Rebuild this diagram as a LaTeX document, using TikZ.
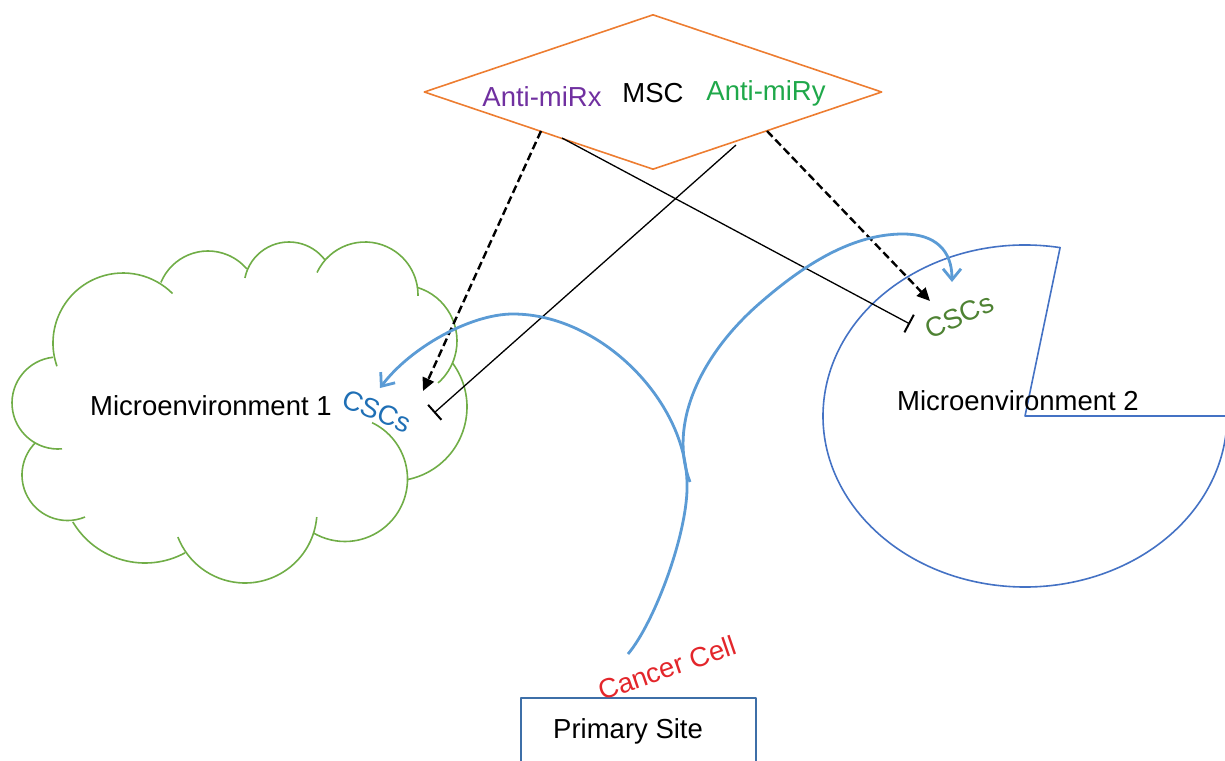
\documentclass[tikz,border=0pt]{standalone}
\usepackage{fontspec}
\setmainfont{Liberation Sans}
\usetikzlibrary{arrows.meta,shapes.geometric}
\definecolor{mscorange}{HTML}{ED7D31}
\definecolor{mirxpurple}{HTML}{7030A0}
\definecolor{mirygreen}{HTML}{1FA84A}
\definecolor{cloudgreen}{HTML}{70AD47}
\definecolor{cscblue}{HTML}{1F6FB5}
\definecolor{cscgreen}{HTML}{4E8233}
\definecolor{flowblue}{HTML}{5B9BD5}
\definecolor{pieblue}{HTML}{4472C4}
\definecolor{siteblue}{HTML}{3E6FA8}
\definecolor{cancerred}{HTML}{E3262B}

\begin{document}
\begin{tikzpicture}[x=1pt,y=-1pt,line join=round,
  every node/.style={font=\fontsize{27.5}{33}\selectfont,inner sep=0pt},
  cloudline/.style={draw=cloudgreen,line width=1.6pt},
  pieline/.style={draw=pieblue,line width=1.6pt},
  siteline/.style={draw=siteblue,line width=1.4pt},
  flow/.style={draw=flowblue,line width=2.8pt,-{Straight Barb[length=11pt,width=18pt]}},
  promote/.style={draw=black,line width=2.4pt,dash pattern=on 8pt off 4pt,-{Triangle[length=13pt,width=12pt]}},
  inhibit/.style={draw=black,line width=1.3pt,-{Bar[width=20pt,line width=2pt]}}]
\useasboundingbox (0,0) rectangle (1225,760);
%%
% Shape: cloud of microenvironment 1 (one arc per puff)
\foreach \cx/\cy/\r/\a/\b in {123/343/70/160.6/315, 208/302/51/202.6/319.6,
    289/287/45/191.6/323.1, 365/295/53/205.1/361, 401/341/56/286.5/408.6,
    393/407/74/323.7/439.1, 345/479/62.5/295.7/480.6, 245/511/72/4.8/158.8,
    145/479/84/61.6/149.2, 67.5/475/45.5/67.4/224.6, 58/403/46/85/263.8}
  \draw[cloudline] (\cx,\cy) ++(\a:\r) arc[start angle=\a,end angle=\b,radius=\r];
% Shape: pie of microenvironment 2
\draw[pieline] (1025,416) -- (1060.1,247.6) arc[start angle=280,end angle=0,x radius=202,y radius=171] -- cycle;
% Shape: primary site box
\draw[siteline] (521,698) rectangle (756,790);
%
% Node: msc
\node[diamond,draw=mscorange,line width=1.6pt,minimum width=458pt,minimum height=155pt] (msc) at (653,92) {};
\node[anchor=base,text=mirxpurple] (mirx) at (542,106) {Anti-miRx};
\node[anchor=base] (msclbl) at (653,102) {MSC};
\node[anchor=base,text=mirygreen] (miry) at (766,100) {Anti-miRy};
% Node: env1
\node[anchor=base west] (env1) at (90,415) {Microenvironment 1};
\node[text=cscblue,rotate=-22] (csc1) at (377,411) {CSCs};
% Node: env2
\node[anchor=base west] (env2) at (897,410) {Microenvironment 2};
\node[text=cscgreen,rotate=24] (csc2) at (959,316) {CSCs};
% Node: primary
\node[anchor=base west] (primary) at (553,738) {Primary Site};
\node[text=cancerred,rotate=19] (cancer) at (667,668) {Cancer Cell};
%
\coordinate (xdash) at (541,131);
\coordinate (xbar) at (562,138);
\coordinate (ybar) at (736,145);
\coordinate (ydash) at (767,131);
\coordinate (xdashend) at (423,391);
\coordinate (ybarend) at (434,413);
\coordinate (xbarend) at (910,324);
\coordinate (ydashend) at (930,301);
\coordinate (flowstart) at (628,654);
\coordinate (flowsplit) at (690,482);
%
% Edge: mirx -> csc1
\draw[promote] (xdash) -- (xdashend);
% Edge: miry -> csc2
\draw[promote] (ydash) -- (ydashend);
% Edge: msc -| csc2
\draw[inhibit] (xbar) -- (xbarend);
% Edge: msc -| csc1
\draw[inhibit] (ybar) -- (ybarend);
% Edge: cancer -> csc1
\draw[flow] (flowstart) .. controls (655,622) and (689,530) .. (687,482) .. controls (685,400) and (600,314) .. (513,314) .. controls (470,314) and (410,348) .. (380,388);
% Edge: cancer -> csc2
\draw[flow] (flowsplit) .. controls (668,425) and (700,355) .. (760,303) .. controls (798,270) and (848,234) .. (903,234) .. controls (935,234) and (952,250) .. (952,282);
%
\end{tikzpicture}
\end{document}
